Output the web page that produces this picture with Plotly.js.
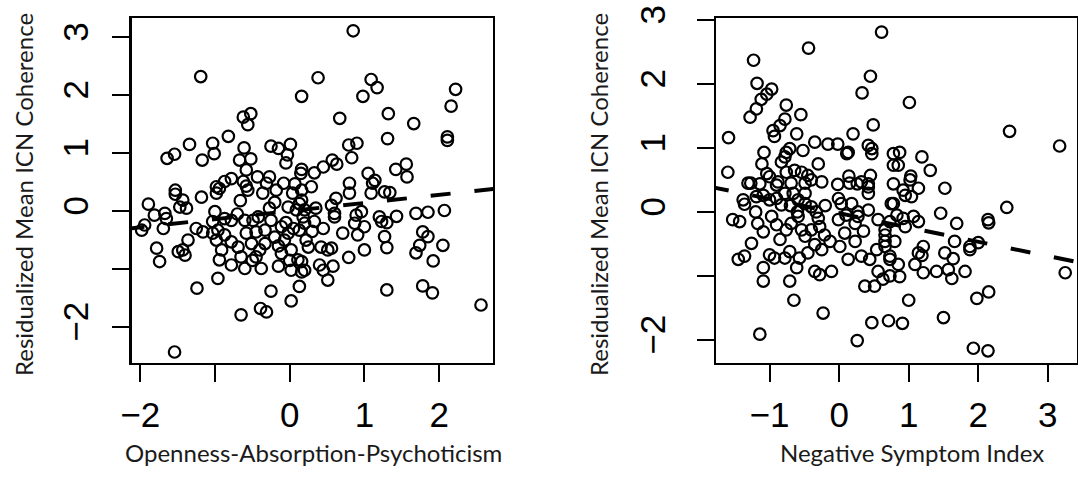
<!DOCTYPE html>
<html>
<head>
<meta charset="utf-8">
<script src="https://cdn.plot.ly/plotly-3.0.1.min.js"></script>
<style>html,body{margin:0;padding:0;background:#fff;}#chart{width:1078px;height:478px;}</style>
</head>
<body>
<div id="chart"></div>
<script>
// Left panel: Openness-Absorption-Psychoticism vs residualized coherence
const oapX = [-1.19,0.16,-0.62,-0.52,-0.56,-0.82,-1.34,-1.03,-1.01,-1.64,-1.54,-1.17,-0.61,-0.67,-0.52,-0.58,-0.25,-0.15,0.01,-0.03,-0.05,0.16,0.15,
-0.43,-0.27,-0.78,-0.87,-0.98,-0.62,-0.58,-0.31,-0.08,0.07,-1.53,
0.85,0.38,1.09,1.17,0.98,2.22,2.16,0.67,1.32,1.66,1.31,2.11,2.11,0.79,0.90,0.83,0.57,0.63,0.45,0.33,
1.05,1.14,1.11,1.42,1.56,1.57,0.80,0.29,
0.80,1.27,1.34,1.09,0.62,0.56,0.60,0.60,0.13,0.20,0.18,0.33,0.13,0.89,0.96,0.87,1.00,0.91,1.20,1.23,1.30,1.43,1.69,1.85,2.07,
0.71,1.00,0.79,1.27,1.30,0.25,0.42,0.51,0.56,0.16,0.20,0.40,0.45,0.51,0.58,0.13,1.78,1.85,1.74,1.69,2.05,1.92,1.30,1.78,1.91,2.56,
-1.53,-1.18,-0.98,-0.94,-1.89,-1.47,-1.38,-1.43,-0.66,-0.56,-0.36,-0.18,0.04,0.16,
-1.81,-1.67,-1.65,-1.94,-1.69,-1.98,-1.78,-1.74,-1.36,-1.49,-1.43,-1.40,-1.25,-1.16,-1.00,-1.03,-1.03,-0.98,-0.91,-0.94,-0.87,-0.78,-0.96,-0.87,-0.78,-0.69,
-0.78,-0.60,-0.65,-0.45,-0.38,-0.40,-0.33,-0.51,-0.58,-0.45,-0.33,-0.25,-0.27,-0.49,-0.42,-0.60,
-0.11,-0.02,-0.07,-0.11,0.02,0.11,0.02,0.16,0.22,0.20,0.09,-0.02,0.16,
-0.96,-1.24,-0.25,0.02,-0.65,-0.39,-0.31,-1.54,
-0.20,-0.05,0.05,-0.15,0.30,0.35,-0.70,-0.20,0.45,0.00,-0.50,-0.15];
const oapY = [2.32,1.98,1.62,1.68,1.49,1.29,1.15,1.17,0.99,0.91,0.98,0.88,1.09,0.88,0.90,0.71,1.12,1.08,1.15,0.97,0.83,0.72,0.65,
0.59,0.59,0.56,0.51,0.42,0.51,0.43,0.48,0.48,0.47,0.36,
3.11,2.30,2.27,2.13,1.98,2.10,1.81,1.60,1.68,1.51,1.25,1.28,1.22,1.14,1.17,0.92,0.88,0.81,0.76,0.66,
0.65,0.53,0.48,0.72,0.81,0.59,0.48,0.42,
0.31,0.33,0.32,0.31,0.22,0.10,-0.04,-0.10,0.13,0.02,-0.10,-0.18,-0.33,-0.07,-0.01,-0.21,-0.27,-0.41,-0.10,-0.18,-0.20,-0.09,-0.04,-0.02,0.01,
-0.38,-0.67,-0.80,-0.44,-0.63,-0.62,-0.62,-0.67,-0.64,-0.87,-1.02,-0.93,-1.02,-1.19,-0.95,-1.30,-0.36,-0.44,-0.59,-0.72,-0.59,-0.86,-1.36,-1.29,-1.41,-1.62,
0.29,0.24,0.31,0.39,0.12,0.07,0.05,0.19,0.18,0.36,0.31,0.36,0.31,0.36,
-0.07,-0.04,-0.13,-0.24,-0.30,-0.33,-0.64,-0.87,-0.50,-0.70,-0.67,-0.76,-0.30,-0.36,-0.01,-0.18,-0.38,-0.50,-0.67,-0.84,-0.13,-0.16,-0.33,-0.41,-0.53,-0.62,
-0.93,-0.99,-0.79,-0.79,-0.99,-0.67,-0.56,-0.56,-0.38,-0.36,-0.33,-0.16,0.05,-0.16,-0.10,-0.16,
-0.27,-0.38,-0.50,-0.73,-0.67,-0.84,-1.02,-1.05,-0.50,-0.21,0.02,0.07,0.19,
-1.16,-1.33,-1.38,-1.55,-1.79,-1.68,-1.74,-2.43,
-0.45,-0.20,-0.30,-0.60,-0.35,0.05,-0.05,0.15,-0.30,-0.85,-0.85,-0.95];

// Right panel: Negative Symptom Index vs residualized coherence
const nsiX = [0.61,-0.44,-1.23,0.45,0.33,-1.18,-0.97,-1.04,-1.12,-1.19,-1.28,-0.76,-0.78,-0.55,-1.59,-0.85,-0.95,-0.93,-0.61,0.49,0.20,-0.35,-0.16,-0.02,0.13,0.11,0.42,0.47,0.47,-1.08,-1.11,-0.76,-0.71,-0.78,-0.83,-0.52,-0.30,-1.60,0.78,0.78,-0.76,-0.64,-0.54,-0.45,-0.40,-1.04,-1.00,-1.27,-1.14,-0.88,-0.69,-0.25,-0.02,0.14,0.26,0.45,0.42,0.78,
1.01,2.45,3.17,0.87,0.85,1.19,1.31,1.03,1.14,1.52,0.92,
1.02,0.95,1.04,0.78,2.41,1.46,1.69,2.14,2.15,0.83,0.92,1.07,1.14,0.95,0.66,0.80,0.66,0.73,0.85,0.87,1.66,1.88,2.00,1.88,1.21,1.14,1.19,1.09,1.52,1.64,1.57,1.62,1.40,1.21,1.81,3.25,1.00,2.15,1.98,0.71,0.91,1.50,1.93,2.14,
-1.31,-0.90,-0.49,0.15,0.32,0.42,0.42,
-1.38,-1.36,-1.19,-1.09,-1.00,-0.90,-0.83,-0.78,-0.66,-0.59,-0.49,-0.40,-0.33,-0.49,-0.01,0.03,0.18,0.27,0.42,0.56,0.75,0.73,
-1.53,-1.43,-1.17,-1.09,-0.97,-1.26,-1.36,-1.45,
-0.85,-0.76,-0.69,-0.59,-0.54,-0.49,-0.40,-0.28,-0.21,-0.13,-0.35,-0.25,-0.45,-0.57,-0.71,-0.93,-0.78,-1.00,
-1.09,-1.09,-0.71,-0.61,-0.35,-0.28,-0.11,0.13,0.01,0.08,0.23,0.32,0.44,0.54,0.66,0.66,0.37,0.51,0.63,0.56,0.73,0.73,0.23,0.27,-0.01,
-0.65,-0.23,0.47,-1.14,0.26,
-0.60,-0.20,-0.90,-0.30,0.10,-0.70,-1.20,0.35];
const nsiY = [2.81,2.56,2.37,2.12,1.86,2.01,1.92,1.84,1.76,1.61,1.48,1.67,1.45,1.52,1.16,1.35,1.27,1.18,1.22,1.36,1.22,1.09,1.06,1.06,0.93,0.91,1.04,0.99,0.91,0.93,0.75,0.93,0.99,0.86,0.78,0.96,0.75,0.62,0.91,0.73,0.62,0.65,0.62,0.57,0.50,0.60,0.55,0.45,0.44,0.47,0.45,0.47,0.43,0.56,0.44,0.57,0.44,0.44,
1.71,1.26,1.03,0.93,0.73,0.86,0.65,0.56,0.37,0.37,0.34,
0.50,0.26,0.24,0.13,0.07,-0.02,-0.18,-0.12,-0.17,-0.05,-0.10,-0.07,-0.15,-0.23,-0.36,-0.46,-0.54,-0.69,-0.82,-1.01,-0.46,-0.54,-0.48,-0.59,-0.54,-0.64,-0.68,-0.82,-0.64,-0.73,-0.90,-1.04,-0.93,-0.95,-0.93,-0.95,-1.38,-1.25,-1.35,-1.70,-1.74,-1.65,-2.13,-2.17,
0.45,0.42,0.45,0.45,0.47,0.39,0.29,
0.19,0.12,0.24,0.26,0.19,0.21,0.11,0.29,0.29,0.19,0.13,0.08,0.00,0.29,0.21,0.13,0.13,0.00,0.03,-0.12,0.13,-0.15,
-0.12,-0.15,-0.18,-0.31,-0.07,-0.49,-0.69,-0.74,
-0.43,-0.28,-0.18,-0.07,-0.28,-0.38,-0.28,-0.23,-0.36,-0.46,-0.51,-0.59,-0.64,-0.72,-0.62,-0.72,-0.72,-0.67,
-0.87,-1.08,-1.08,-0.87,-0.93,-0.98,-0.93,-0.74,-0.54,-0.33,-0.46,-0.69,-0.74,-0.59,-0.46,-0.28,-1.16,-1.16,-1.05,-0.93,-0.74,-1.00,-0.18,-0.07,-0.12,
-1.38,-1.58,-1.73,-1.91,-2.01,
0.00,0.10,-0.20,-0.10,-0.05,0.10,0.00,-0.30];

// Fitted regression lines (intercept, slope)
const oapFit = {intercept: 0.0, slope: 0.14};
const nsiFit = {intercept: -0.02, slope: -0.223};

// Axis ticks
const oapXTicks = [-2,-1,0,1,2];
const oapXLabels = ['\u22122','','0','1','2'];
const nsiXTicks = [-1,0,1,2,3];
const nsiXLabels = ['\u22121','0','1','2','3'];
const yTicks = [-2,-1,0,1,2,3];
const yLabels = ['\u22122','','0','1','2','3'];

const oapRange = [-2.11, 2.72];
const nsiRange = [-1.77, 3.42];

function fitLine(fit, rng) {
  const xs = [rng[0] - 0.1, rng[1] + 0.1];
  return {x: xs, y: xs.map(v => fit.intercept + fit.slope * v)};
}
const f1 = fitLine(oapFit, oapRange);
const f2 = fitLine(nsiFit, nsiRange);

const markerStyle = {symbol: 'circle-open', size: 11.5, color: '#000', line: {width: 2.2, color: '#000'}};
const dashStyle = {color: '#000', width: 4, dash: '20px,24px'};

const traces = [
  {x: oapX, y: oapY, type: 'scatter', mode: 'markers', marker: markerStyle, xaxis: 'x', yaxis: 'y', hoverinfo: 'x+y'},
  {x: f1.x, y: f1.y, type: 'scatter', mode: 'lines', line: dashStyle, xaxis: 'x', yaxis: 'y', hoverinfo: 'skip'},
  {x: nsiX, y: nsiY, type: 'scatter', mode: 'markers', marker: markerStyle, xaxis: 'x2', yaxis: 'y2', hoverinfo: 'x+y'},
  {x: f2.x, y: f2.y, type: 'scatter', mode: 'lines', line: dashStyle, xaxis: 'x2', yaxis: 'y2', hoverinfo: 'skip'}
];

const tickFont = {family: 'Liberation Sans, Arial, sans-serif', size: 35, color: '#000'};
const baseAxis = {
  showgrid: false, zeroline: false, showline: true, mirror: true,
  linecolor: '#000', linewidth: 2.5, ticks: 'outside', ticklen: 17, tickwidth: 2,
  tickcolor: '#000', tickfont: tickFont, automargin: false, fixedrange: true
};
const yDomain = [0.2406, 0.9623];
const titleFont = {family: 'Lato, Open Sans, sans-serif', size: 24, color: '#1a1a1a'};

const layout = {
  width: 1078, height: 478,
  margin: {l: 0, r: 0, t: 0, b: 0},
  paper_bgcolor: '#fff', plot_bgcolor: '#fff',
  showlegend: false,
  xaxis: Object.assign({}, baseAxis, {domain: [0.1224, 0.4573], range: oapRange, anchor: 'y', tickmode: 'array', tickvals: oapXTicks, ticktext: oapXLabels, ticklabelstandoff: 3}),
  yaxis: Object.assign({}, baseAxis, {domain: yDomain, range: [-2.62, 3.33], anchor: 'x', tickmode: 'array', tickvals: yTicks, ticktext: yLabels, tickangle: -90, ticklabelstandoff: 10}),
  xaxis2: Object.assign({}, baseAxis, {domain: [0.6642, 0.9991], range: nsiRange, anchor: 'y2', tickmode: 'array', tickvals: nsiXTicks, ticktext: nsiXLabels, ticklabelstandoff: 3}),
  yaxis2: Object.assign({}, baseAxis, {domain: yDomain, range: [-2.36, 3.03], anchor: 'x2', tickmode: 'array', tickvals: yTicks, ticktext: yLabels, tickangle: -90, ticklabelstandoff: 18}),
  annotations: [
    {text: 'Residualized Mean ICN Coherence', xref: 'paper', yref: 'paper', x: 0.0213, y: 0.594, textangle: -90, showarrow: false, xanchor: 'center', yanchor: 'middle', font: titleFont},
    {text: 'Residualized Mean ICN Coherence', xref: 'paper', yref: 'paper', x: 0.5547, y: 0.594, textangle: -90, showarrow: false, xanchor: 'center', yanchor: 'middle', font: titleFont},
    {text: 'Openness-Absorption-Psychoticism', xref: 'paper', yref: 'paper', x: 0.2904, y: 0.054, showarrow: false, xanchor: 'center', yanchor: 'middle', font: titleFont},
    {text: 'Negative Symptom Index', xref: 'paper', yref: 'paper', x: 0.846, y: 0.054, showarrow: false, xanchor: 'center', yanchor: 'middle', font: titleFont}
  ]
};

Plotly.newPlot('chart', traces, layout, {displayModeBar: false, staticPlot: true});
</script>
</body>
</html>
